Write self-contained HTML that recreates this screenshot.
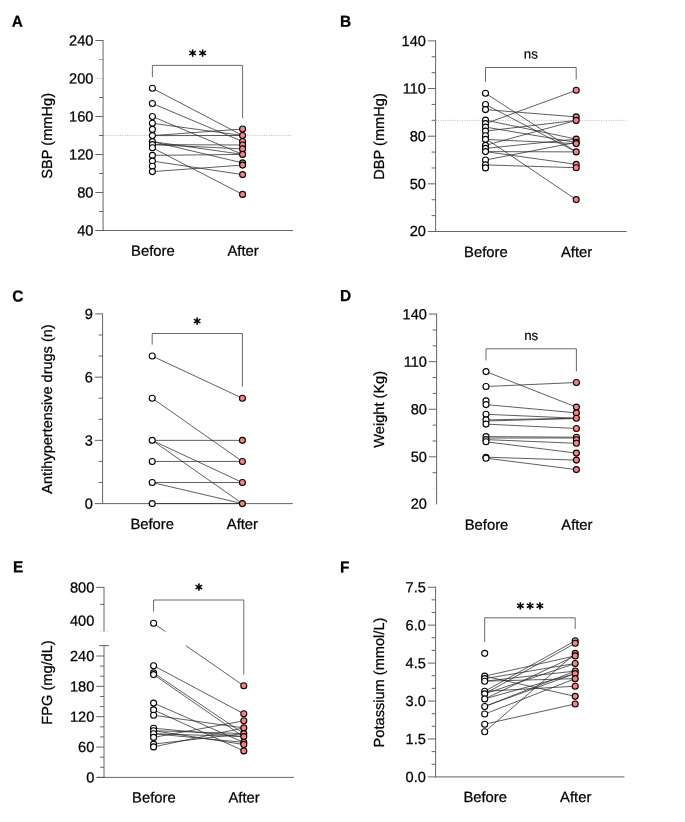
<!DOCTYPE html>
<html lang="en">
<head>
<meta charset="utf-8">
<title>Figure</title>
<style>
html,body{margin:0;padding:0;background:#fff;}
body{width:685px;height:822px;overflow:hidden;}
svg{display:block;}
text{font-family:"Liberation Sans", Arial, sans-serif;fill:#000;text-rendering:geometricPrecision;}
.t{font-size:14.6px;stroke:#000;stroke-width:0.25px;}
.x{font-size:14.8px;}
.pl{font-size:15.9px;font-weight:bold;fill:#000;stroke:#000;stroke-width:0.25px;}
.ax{stroke:#555;stroke-width:0.9;fill:none;shape-rendering:auto;}
.ln{stroke:#2a2a2a;stroke-width:0.75;fill:none;}
.br{stroke:#444;stroke-width:0.8;fill:none;}
.hl{stroke:#888;stroke-width:0.6;stroke-dasharray:1 1.4;fill:none;}
.st{font-family:"DejaVu Sans","Liberation Sans",sans-serif;font-size:14.5px;fill:#000;stroke:#000;stroke-width:0.7px;}
.b{fill:#fff;stroke:#000;stroke-width:1.1;}
.a{fill:#fd8082;stroke:#000;stroke-width:1.1;}
</style>
</head>
<body>
<svg width="685" height="822" viewBox="0 0 685 822" role="img" aria-label="Paired before and after measurements, panels A to F">
<rect x="0" y="0" width="685" height="822" fill="#fff"/>
<g id="panel-A">
<text class="pl" transform="matrix(0.97 0.0005 0 1 11.8 26.8)">A</text>
<path class="ax" d="M103.1 40V231"/>
<path class="ax" d="M95.3 78.5H103.1" style="opacity:0.25"/>
<path class="ax" d="M99.1 59.5H103.1" style="opacity:0.6"/>
<path class="ax" d="M95.3 230.5H103.1M95.3 192.5H103.1M95.3 154.5H103.1M95.3 116.5H103.1M95.3 40.5H103.1M99.1 211.5H103.1M99.1 173.5H103.1M99.1 135.5H103.1M99.1 97.5H103.1"/>
<path class="ax" d="M103.1 230.5H293"/>
<text class="t" text-anchor="end" transform="matrix(1 0.0005 0 1 93.4 235.55)">40</text>
<text class="t" text-anchor="end" transform="matrix(1 0.0005 0 1 93.4 197.55)">80</text>
<text class="t" text-anchor="end" transform="matrix(1 0.0005 0 1 93.4 159.55)">120</text>
<text class="t" text-anchor="end" transform="matrix(1 0.0005 0 1 93.4 121.55)">160</text>
<text class="t" text-anchor="end" transform="matrix(1 0.0005 0 1 93.4 83.55)">200</text>
<text class="t" text-anchor="end" transform="matrix(1 0.0005 0 1 93.4 45.55)">240</text>
<text class="t x" text-anchor="middle" transform="matrix(1 0.0005 0 1 152.9 255.7)">Before</text>
<text class="t x" text-anchor="middle" transform="matrix(1 0.0005 0 1 243.1 255.7)">After</text>
<text class="t" text-anchor="middle" transform="translate(52.3 135.8) rotate(-90)">SBP (mmHg)</text>
<path class="hl" d="M103.1 135.4H292.3"/>
<path class="ln" d="M152.4 88.3L242.6 135.5M152.4 103.5L242.6 141.5M152.4 116.5L242.6 154.4M152.4 123.3L242.6 135.5M152.4 135.6L242.6 129M152.4 135.6L242.6 135.5M152.4 141.6L242.6 162.9M152.4 141.6L242.6 154.4M152.4 144.6L242.6 145M152.4 144.6L242.6 148.9M152.4 147.8L242.6 194.4M152.4 155.4L242.6 154.4M152.4 161.1L242.6 174.6M152.4 171.6L242.6 165.1"/>
<path class="br" d="M152.4 77.2V65.4H242.6V118.2"/>
<text class="st" x="189.12 198.88" transform="matrix(1 0.0005 0 1 0 60.5)">**</text>
<circle class="b" cx="152.4" cy="88.3" r="3"/><circle class="b" cx="152.4" cy="103.5" r="3"/><circle class="b" cx="152.4" cy="116.5" r="3"/><circle class="b" cx="152.4" cy="123.3" r="3"/><circle class="b" cx="152.4" cy="129.4" r="3"/><circle class="b" cx="152.4" cy="135.6" r="3"/><circle class="b" cx="152.4" cy="141.6" r="3"/><circle class="b" cx="152.4" cy="144.6" r="3"/><circle class="b" cx="152.4" cy="147.8" r="3"/><circle class="b" cx="152.4" cy="155.4" r="3"/><circle class="b" cx="152.4" cy="161.1" r="3"/><circle class="b" cx="152.4" cy="166.2" r="3"/><circle class="b" cx="152.4" cy="171.6" r="3"/>
<circle class="a" cx="242.6" cy="129" r="3"/><circle class="a" cx="242.6" cy="135.5" r="3"/><circle class="a" cx="242.6" cy="141.5" r="3"/><circle class="a" cx="242.6" cy="145" r="3"/><circle class="a" cx="242.6" cy="148.9" r="3"/><circle class="a" cx="242.6" cy="154.4" r="3"/><circle class="a" cx="242.6" cy="162.9" r="3"/><circle class="a" cx="242.6" cy="165.1" r="3"/><circle class="a" cx="242.6" cy="174.6" r="3"/><circle class="a" cx="242.6" cy="194.4" r="3"/>
</g>
<g id="panel-B">
<text class="pl" transform="matrix(0.97 0.0005 0 1 339.9 26.8)">B</text>
<path class="ax" d="M435.6 40.4V232"/>
<path class="ax" d="M427.8 231.5H435.6M427.8 183.85H435.6M427.8 136.2H435.6M427.8 88.55H435.6M427.8 40.9H435.6M431.6 215.62H435.6M431.6 199.73H435.6M431.6 167.97H435.6M431.6 152.08H435.6M431.6 120.32H435.6M431.6 104.43H435.6M431.6 72.67H435.6M431.6 56.78H435.6"/>
<path class="ax" d="M435.6 231.5H626.6"/>
<text class="t" text-anchor="end" transform="matrix(1 0.0005 0 1 425.9 235.95)">20</text>
<text class="t" text-anchor="end" transform="matrix(1 0.0005 0 1 425.9 188.9)">50</text>
<text class="t" text-anchor="end" transform="matrix(1 0.0005 0 1 425.9 141.25)">80</text>
<text class="t" text-anchor="end" transform="matrix(1 0.0005 0 1 425.9 93.6)">110</text>
<text class="t" text-anchor="end" transform="matrix(1 0.0005 0 1 425.9 45.95)">140</text>
<text class="t x" text-anchor="middle" transform="matrix(1 0.0005 0 1 485.9 257)">Before</text>
<text class="t x" text-anchor="middle" transform="matrix(1 0.0005 0 1 576.6 257)">After</text>
<text class="t" text-anchor="middle" transform="translate(383.5 136.5) rotate(-90)">DBP (mmHg)</text>
<path class="hl" d="M435.6 120.4H626"/>
<path class="ln" d="M485.5 93.3L576.2 151.9M485.5 104.5L576.2 151.9M485.5 109.6L576.2 116.9M485.5 123.6L576.2 90.3M485.5 120.1L576.2 139.1M485.5 138.5L576.2 199.6M485.5 131.1L576.2 120.4M485.5 145.4L576.2 120.4M485.5 139.4L576.2 143.6M485.5 148.4L576.2 139.1M485.5 151.6L576.2 151.9M485.5 151.6L576.2 164.4M485.5 160L576.2 142.4M485.5 164.9L576.2 167.7M485.5 127.1L576.2 142.4"/>
<path class="br" d="M485.5 81.7V67.5H576.2V79.5"/>
<text text-anchor="middle" transform="matrix(1 0.0005 0 1 530.85 58.5)" style="font-size:13.3px;stroke:#000;stroke-width:0.2px">ns</text>
<circle class="b" cx="485.5" cy="93.3" r="3"/><circle class="b" cx="485.5" cy="104.5" r="3"/><circle class="b" cx="485.5" cy="109.6" r="3"/><circle class="b" cx="485.5" cy="120.1" r="3"/><circle class="b" cx="485.5" cy="123.6" r="3"/><circle class="b" cx="485.5" cy="127.1" r="3"/><circle class="b" cx="485.5" cy="131.1" r="3"/><circle class="b" cx="485.5" cy="135.8" r="3"/><circle class="b" cx="485.5" cy="139.4" r="3"/><circle class="b" cx="485.5" cy="145.4" r="3"/><circle class="b" cx="485.5" cy="148.4" r="3"/><circle class="b" cx="485.5" cy="151.6" r="3"/><circle class="b" cx="485.5" cy="160" r="3"/><circle class="b" cx="485.5" cy="164.9" r="3"/><circle class="b" cx="485.5" cy="167.9" r="3"/>
<circle class="a" cx="576.2" cy="90.3" r="3"/><circle class="a" cx="576.2" cy="116.9" r="3"/><circle class="a" cx="576.2" cy="120.4" r="3"/><circle class="a" cx="576.2" cy="139.1" r="3"/><circle class="a" cx="576.2" cy="142.4" r="3"/><circle class="a" cx="576.2" cy="143.6" r="3"/><circle class="a" cx="576.2" cy="151.9" r="3"/><circle class="a" cx="576.2" cy="164.4" r="3"/><circle class="a" cx="576.2" cy="167.7" r="3"/><circle class="a" cx="576.2" cy="199.6" r="3"/>
</g>
<g id="panel-C">
<text class="pl" transform="matrix(0.97 0.0005 0 1 12.3 301.5)">C</text>
<path class="ax" d="M102.6 313.4V504.1"/>
<path class="ax" d="M94.8 503.6H102.6M94.8 440.37H102.6M94.8 377.13H102.6M94.8 313.9H102.6M98.6 482.52H102.6M98.6 461.44H102.6M98.6 419.29H102.6M98.6 398.21H102.6M98.6 356.06H102.6M98.6 334.98H102.6"/>
<path class="ax" d="M102.6 503.6H292.8"/>
<text class="t" text-anchor="end" transform="matrix(1 0.0005 0 1 92.9 508.65)">0</text>
<text class="t" text-anchor="end" transform="matrix(1 0.0005 0 1 92.9 445.42)">3</text>
<text class="t" text-anchor="end" transform="matrix(1 0.0005 0 1 92.9 382.18)">6</text>
<text class="t" text-anchor="end" transform="matrix(1 0.0005 0 1 92.9 318.95)">9</text>
<text class="t x" text-anchor="middle" transform="matrix(1 0.0005 0 1 152.2 528.9)">Before</text>
<text class="t x" text-anchor="middle" transform="matrix(1 0.0005 0 1 242.4 528.9)">After</text>
<text class="t" text-anchor="middle" transform="translate(52.3 409) rotate(-90)" style="font-size:14.5px">Antihypertensive drugs (n)</text>
<path class="ln" d="M152.2 356.06L242.4 398.21M152.2 398.21L242.4 461.44M152.2 440.37L242.4 440.37M152.2 440.37L242.4 482.52M152.2 440.37L242.4 503.6M152.2 461.44L242.4 461.44M152.2 482.52L242.4 482.52M152.2 482.52L242.4 503.6M152.2 503.6L242.4 503.6"/>
<path class="br" d="M152.2 344.6V333.5H242.4V386.5"/>
<text class="st" x="193.55" transform="matrix(1 0.0005 0 1 0 328.4)">*</text>
<circle class="b" cx="152.2" cy="356.06" r="3"/><circle class="b" cx="152.2" cy="398.21" r="3"/><circle class="b" cx="152.2" cy="440.37" r="3"/><circle class="b" cx="152.2" cy="461.44" r="3"/><circle class="b" cx="152.2" cy="482.52" r="3"/><circle class="b" cx="152.2" cy="503.6" r="3"/>
<circle class="a" cx="242.4" cy="398.21" r="3"/><circle class="a" cx="242.4" cy="440.37" r="3"/><circle class="a" cx="242.4" cy="461.44" r="3"/><circle class="a" cx="242.4" cy="482.52" r="3"/><circle class="a" cx="242.4" cy="503.6" r="3"/>
</g>
<g id="panel-D">
<text class="pl" transform="matrix(0.97 0.0005 0 1 340 301.1)">D</text>
<path class="ax" d="M436.6 313.6V504.4"/>
<path class="ax" d="M432.6 488.9H436.6" style="opacity:0.14"/>
<path class="ax" d="M428.8 456.82H436.6M428.8 409.25H436.6M428.8 361.68H436.6M428.8 314.1H436.6M432.6 472.68H436.6M432.6 440.97H436.6M432.6 425.11H436.6M432.6 393.39H436.6M432.6 377.53H436.6M432.6 345.82H436.6M432.6 329.96H436.6"/>
<text class="t" text-anchor="end" transform="matrix(1 0.0005 0 1 426.9 508.85)">20</text>
<text class="t" text-anchor="end" transform="matrix(1 0.0005 0 1 426.9 461.88)">50</text>
<text class="t" text-anchor="end" transform="matrix(1 0.0005 0 1 426.9 414.3)">80</text>
<text class="t" text-anchor="end" transform="matrix(1 0.0005 0 1 426.9 366.73)">110</text>
<text class="t" text-anchor="end" transform="matrix(1 0.0005 0 1 426.9 319.15)">140</text>
<text class="t x" text-anchor="middle" transform="matrix(1 0.0005 0 1 486.5 529.8)">Before</text>
<text class="t x" text-anchor="middle" transform="matrix(1 0.0005 0 1 576.9 529.8)">After</text>
<text class="t" text-anchor="middle" transform="translate(383.5 409.3) rotate(-90)">Weight (Kg)</text>
<path class="ln" d="M486 371.6L576.4 407.1M486 386.5L576.4 382.5M486 404.6L576.4 412.9M486 414.3L576.4 418.2M486 419.9L576.4 418.2M486 421L576.4 418.5M486 424.1L576.4 428.5M486 436.6L576.4 437.2M486 438L576.4 438M486 439.6L576.4 443.3M486 441.8L576.4 453.1M486 457.2L576.4 460.1M486 458.2L576.4 469.6"/>
<path class="br" d="M486 360.5V348.8H576.4V371.3"/>
<text text-anchor="middle" transform="matrix(1 0.0005 0 1 531.2 340.1)" style="font-size:13.3px;stroke:#000;stroke-width:0.2px">ns</text>
<circle class="b" cx="486" cy="371.6" r="3"/><circle class="b" cx="486" cy="386.5" r="3"/><circle class="b" cx="486" cy="400.9" r="3"/><circle class="b" cx="486" cy="404.6" r="3"/><circle class="b" cx="486" cy="414.3" r="3"/><circle class="b" cx="486" cy="419.9" r="3"/><circle class="b" cx="486" cy="424.1" r="3"/><circle class="b" cx="486" cy="436.6" r="3"/><circle class="b" cx="486" cy="439.6" r="3"/><circle class="b" cx="486" cy="441.8" r="3"/><circle class="b" cx="486" cy="457.2" r="3"/><circle class="b" cx="486" cy="458.2" r="3"/>
<circle class="a" cx="576.4" cy="382.5" r="3"/><circle class="a" cx="576.4" cy="407.1" r="3"/><circle class="a" cx="576.4" cy="412.9" r="3"/><circle class="a" cx="576.4" cy="418.2" r="3"/><circle class="a" cx="576.4" cy="428.5" r="3"/><circle class="a" cx="576.4" cy="437.2" r="3"/><circle class="a" cx="576.4" cy="439.7" r="3"/><circle class="a" cx="576.4" cy="443.3" r="3"/><circle class="a" cx="576.4" cy="453.1" r="3"/><circle class="a" cx="576.4" cy="460.1" r="3"/><circle class="a" cx="576.4" cy="469.6" r="3"/>
</g>
<g id="panel-E">
<text class="pl" transform="matrix(0.97 0.0005 0 1 12.9 572.3)">E</text>
<path class="ax" d="M104 586.9V631.5"/>
<path class="ax" d="M104 645.1V777.9"/>
<path class="ax" d="M99 645.6H109"/>
<path class="ax" d="M99 631.2H109" style="opacity:0.16"/>
<path class="ax" d="M96.2 777.4H104M96.2 747.05H104M96.2 716.7H104M96.2 686.35H104M96.2 656H104M96.2 587.4H104M100 767.28H104M100 757.17H104M100 736.93H104M100 726.82H104M100 706.58H104M100 696.47H104M100 676.23H104M100 666.12H104M100 604.4H104"/>
<path class="ax" d="M97 777.4H294"/>
<text class="t" text-anchor="end" transform="matrix(1 0.0005 0 1 94.3 782.45)">0</text>
<text class="t" text-anchor="end" transform="matrix(1 0.0005 0 1 94.3 752.1)">60</text>
<text class="t" text-anchor="end" transform="matrix(1 0.0005 0 1 94.3 721.75)">120</text>
<text class="t" text-anchor="end" transform="matrix(1 0.0005 0 1 94.3 691.4)">180</text>
<text class="t" text-anchor="end" transform="matrix(1 0.0005 0 1 94.3 661.05)">240</text>
<text class="t" text-anchor="end" transform="matrix(1 0.0005 0 1 94.3 625.75)">400</text>
<text class="t" text-anchor="end" transform="matrix(1 0.0005 0 1 94.3 592.45)">800</text>
<text class="t x" text-anchor="middle" transform="matrix(1 0.0005 0 1 153.9 802.5)">Before</text>
<text class="t x" text-anchor="middle" transform="matrix(1 0.0005 0 1 244.1 802.5)">After</text>
<text class="t" text-anchor="middle" transform="translate(52.3 682.5) rotate(-90)">FPG (mg/dL)</text>
<path class="ln" d="M153.6 665.7L243.8 713.8M153.6 672.9L243.8 733.6M153.6 674.6L243.8 737M153.6 703.1L243.8 742.4M153.6 709.9L243.8 750.9M153.6 715.3L243.8 727.9M153.6 728.2L243.8 736.6M153.6 730.7L243.8 733.6M153.6 733.7L243.8 742.4M153.6 737.4L243.8 720.8M153.6 744.1L243.8 733.6M153.6 746.9L243.8 727.9M153.6 730.7L243.8 744.5M153.6 733.7L243.8 736.6M153.6 623.3L165.58 631.6M185.93 645.7L243.8 685.8"/>
<path class="br" d="M153.6 611.6V600H243.8V674.5"/>
<text class="st" x="195.2" transform="matrix(1 0.0005 0 1 0 594.4)">*</text>
<circle class="b" cx="153.6" cy="623.3" r="3"/><circle class="b" cx="153.6" cy="665.7" r="3"/><circle class="b" cx="153.6" cy="672.9" r="3"/><circle class="b" cx="153.6" cy="674.6" r="3"/><circle class="b" cx="153.6" cy="703.1" r="3"/><circle class="b" cx="153.6" cy="709.9" r="3"/><circle class="b" cx="153.6" cy="715.3" r="3"/><circle class="b" cx="153.6" cy="728.2" r="3"/><circle class="b" cx="153.6" cy="730.7" r="3"/><circle class="b" cx="153.6" cy="733.7" r="3"/><circle class="b" cx="153.6" cy="737.4" r="3"/><circle class="b" cx="153.6" cy="744.1" r="3"/><circle class="b" cx="153.6" cy="746.9" r="3"/>
<circle class="a" cx="243.8" cy="685.8" r="3"/><circle class="a" cx="243.8" cy="713.8" r="3"/><circle class="a" cx="243.8" cy="720.8" r="3"/><circle class="a" cx="243.8" cy="727.9" r="3"/><circle class="a" cx="243.8" cy="733.6" r="3"/><circle class="a" cx="243.8" cy="736.6" r="3"/><circle class="a" cx="243.8" cy="742.4" r="3"/><circle class="a" cx="243.8" cy="744.5" r="3"/><circle class="a" cx="243.8" cy="750.9" r="3"/>
</g>
<g id="panel-F">
<text class="pl" transform="matrix(0.97 0.0005 0 1 340 572.5)">F</text>
<path class="ax" d="M435.6 586.7V777.4"/>
<path class="ax" d="M427.8 776.9H435.6M427.8 738.96H435.6M427.8 701.02H435.6M427.8 663.08H435.6M427.8 625.14H435.6M427.8 587.2H435.6M431.6 764.25H435.6M431.6 751.61H435.6M431.6 726.31H435.6M431.6 713.67H435.6M431.6 688.37H435.6M431.6 675.73H435.6M431.6 650.43H435.6M431.6 637.79H435.6M431.6 612.49H435.6M431.6 599.85H435.6"/>
<path class="ax" d="M435.6 776.9H624.5"/>
<text class="t" text-anchor="end" transform="matrix(1 0.0005 0 1 425.9 781.95)">0.0</text>
<text class="t" text-anchor="end" transform="matrix(1 0.0005 0 1 425.9 744.01)">1.5</text>
<text class="t" text-anchor="end" transform="matrix(1 0.0005 0 1 425.9 706.07)">3.0</text>
<text class="t" text-anchor="end" transform="matrix(1 0.0005 0 1 425.9 668.13)">4.5</text>
<text class="t" text-anchor="end" transform="matrix(1 0.0005 0 1 425.9 630.19)">6.0</text>
<text class="t" text-anchor="end" transform="matrix(1 0.0005 0 1 425.9 592.25)">7.5</text>
<text class="t x" text-anchor="middle" transform="matrix(1 0.0005 0 1 485.2 801.9)">Before</text>
<text class="t x" text-anchor="middle" transform="matrix(1 0.0005 0 1 575.7 801.9)">After</text>
<text class="t" text-anchor="middle" transform="translate(383.5 682.5) rotate(-90)">Potassium (mmol/L)</text>
<path class="ln" d="M484.7 724.18L575.2 703.95M484.7 731.77L575.2 653.36M484.7 676.13L575.2 696.36M484.7 678.66L575.2 663.48M484.7 681.19L575.2 678.66M484.7 676.13L575.2 655.89M484.7 691.3L575.2 640.72M484.7 693.83L575.2 643.25M484.7 698.89L575.2 655.89M484.7 706.48L575.2 671.07M484.7 706.48L575.2 673.6M484.7 714.07L575.2 678.66M484.7 691.3L575.2 686.24M484.7 693.83L575.2 663.48M484.7 698.89L575.2 673.6M484.7 681.19L575.2 671.07"/>
<path class="br" d="M484.7 641.9V617.8H575.2V629"/>
<text class="st" x="516.7 526.45 536.2" transform="matrix(1 0.0005 0 1 0 612.9)">***</text>
<circle class="b" cx="484.7" cy="653.36" r="3"/><circle class="b" cx="484.7" cy="676.13" r="3"/><circle class="b" cx="484.7" cy="678.66" r="3"/><circle class="b" cx="484.7" cy="681.19" r="3"/><circle class="b" cx="484.7" cy="691.3" r="3"/><circle class="b" cx="484.7" cy="693.83" r="3"/><circle class="b" cx="484.7" cy="698.89" r="3"/><circle class="b" cx="484.7" cy="706.48" r="3"/><circle class="b" cx="484.7" cy="714.07" r="3"/><circle class="b" cx="484.7" cy="724.18" r="3"/><circle class="b" cx="484.7" cy="731.77" r="3"/>
<circle class="a" cx="575.2" cy="640.72" r="3"/><circle class="a" cx="575.2" cy="643.25" r="3"/><circle class="a" cx="575.2" cy="653.36" r="3"/><circle class="a" cx="575.2" cy="655.89" r="3"/><circle class="a" cx="575.2" cy="663.48" r="3"/><circle class="a" cx="575.2" cy="671.07" r="3"/><circle class="a" cx="575.2" cy="673.6" r="3"/><circle class="a" cx="575.2" cy="678.66" r="3"/><circle class="a" cx="575.2" cy="686.24" r="3"/><circle class="a" cx="575.2" cy="696.36" r="3"/><circle class="a" cx="575.2" cy="703.95" r="3"/>
</g>
</svg>
</body>
</html>
